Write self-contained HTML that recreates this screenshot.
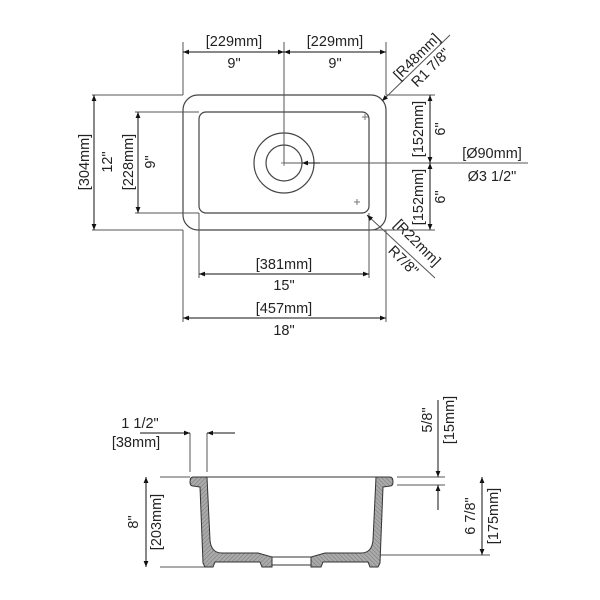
<!DOCTYPE html>
<html><head><meta charset="utf-8"><style>
html,body{margin:0;padding:0;background:#fff;}
svg{display:block;}
text{font-family:"Liberation Sans",sans-serif;font-size:14.5px;fill:#222;}
</style></head><body>
<svg width="600" height="600" viewBox="0 0 600 600" xmlns="http://www.w3.org/2000/svg">
<defs>
<marker id="a" viewBox="0 0 10 10" refX="10" refY="5" markerWidth="10" markerHeight="6" orient="auto-start-reverse" markerUnits="userSpaceOnUse"><path d="M0,1 L10,5 L0,9 Z" fill="#111"/></marker>
<pattern id="h" width="3" height="3" patternUnits="userSpaceOnUse" patternTransform="rotate(45)"><rect width="3" height="3" fill="#aaa"/><line x1="0" y1="0" x2="0" y2="3" stroke="#777" stroke-width="1"/></pattern>
</defs>
<g stroke="#555" stroke-width="1" fill="none">
<rect x="183" y="95" width="203" height="135" rx="15" stroke="#444" stroke-width="1.2"/>
<rect x="199" y="112" width="170" height="101" rx="7" stroke="#444" stroke-width="1.2"/>
<circle cx="284" cy="163" r="30" stroke="#444" stroke-width="1.2"/>
<circle cx="284" cy="163" r="18" stroke="#444" stroke-width="1.2"/>
<path d="M281,163h6M284,160v6M362,117h6M365,114v6M354,202h6M357,199v6" stroke="#777"/>
<path d="M183,42V95M386,42V95M284,42V163M92,95H183M92,230H183M135,112H199M135,213H199M386,95H435M369,230H435M199,213V278M369,213V278M183,230V322M386,230V322"/>
<path d="M284,163H528"/>
</g>
<g stroke="#111" stroke-width="1" fill="none">
<line x1="183" y1="52" x2="284" y2="52" marker-start="url(#a)" marker-end="url(#a)"/>
<line x1="284" y1="52" x2="386" y2="52" marker-start="url(#a)" marker-end="url(#a)"/>
<line x1="94" y1="95" x2="94" y2="230" marker-start="url(#a)" marker-end="url(#a)"/>
<line x1="138" y1="112" x2="138" y2="213" marker-start="url(#a)" marker-end="url(#a)"/>
<line x1="430" y1="95" x2="430" y2="163" marker-start="url(#a)" marker-end="url(#a)"/>
<line x1="430" y1="163" x2="430" y2="230" marker-start="url(#a)" marker-end="url(#a)"/>
<line x1="199" y1="274" x2="369" y2="274" marker-start="url(#a)" marker-end="url(#a)"/>
<line x1="183" y1="318" x2="386" y2="318" marker-start="url(#a)" marker-end="url(#a)"/>
<line x1="320" y1="163" x2="302" y2="163" marker-end="url(#a)"/>
<line x1="450" y1="35" x2="382" y2="101" marker-end="url(#a)" stroke="#555"/>
<line x1="435" y1="278" x2="367" y2="215" marker-end="url(#a)" stroke="#555"/>
</g>
<g text-anchor="middle">
<text x="234" y="46">[229mm]</text><text x="234" y="68">9"</text>
<text x="335" y="46">[229mm]</text><text x="335" y="68">9"</text>
<text x="284" y="269">[381mm]</text><text x="284" y="290">15"</text>
<text x="284" y="313">[457mm]</text><text x="284" y="335">18"</text>
<text x="492" y="158">[Ø90mm]</text><text x="492" y="181">Ø3 1/2"</text>
<text transform="translate(89,162) rotate(-90)">[304mm]</text>
<text transform="translate(112,162) rotate(-90)">12"</text>
<text transform="translate(133,162) rotate(-90)">[228mm]</text>
<text transform="translate(155,162) rotate(-90)">9"</text>
<text transform="translate(423,129) rotate(-90)">[152mm]</text>
<text transform="translate(445,129) rotate(-90)">6"</text>
<text transform="translate(423,197) rotate(-90)">[152mm]</text>
<text transform="translate(445,197) rotate(-90)">6"</text>
<text transform="translate(420,60) rotate(-45)">[R48mm]</text>
<text transform="translate(434,71) rotate(-45)">R1 7/8"</text>
<text transform="translate(414,246) rotate(45)">[R22mm]</text>
<text transform="translate(400,264) rotate(45)">R7/8"</text>
</g>
<g stroke="#555" stroke-width="1" fill="none">
<path d="M190,433V472M207,433V472M160,477H190M397,477H445M397,485H445M380,555H490M160,567H205"/>
<line x1="207" y1="477" x2="377" y2="477" stroke="#333"/>
</g>
<g stroke="#111" stroke-width="1" fill="none">
<line x1="140" y1="433" x2="190" y2="433" marker-end="url(#a)"/>
<line x1="235" y1="433" x2="207" y2="433" marker-end="url(#a)"/>
<line x1="146" y1="477" x2="146" y2="567" marker-start="url(#a)" marker-end="url(#a)"/>
<line x1="438" y1="400" x2="438" y2="477" marker-end="url(#a)"/>
<line x1="438" y1="510" x2="438" y2="485" marker-end="url(#a)"/>
<line x1="482" y1="477" x2="482" y2="555" marker-start="url(#a)" marker-end="url(#a)"/>
</g>
<g fill="url(#h)" stroke="#333" stroke-width="1">
<path id="lh" d="M193,477 L207,477 L210,540 Q211,553 222,553 L258,553 L272,557 L272,567 L262,567 L260,562 L215,562 L213,567 L205,567 L203,563 L200,487 L193,486 Q190,486 190,482 Q190,477 193,477 Z"/>
<use href="#lh" transform="translate(583,0) scale(-1,1)"/>
</g>
<path d="M272,557H311M272,565H311" stroke="#333" fill="none"/>
<g text-anchor="middle">
<text x="140" y="428">1 1/2"</text><text x="136" y="447">[38mm]</text>
<text transform="translate(138,522) rotate(-90)">8"</text>
<text transform="translate(161,522) rotate(-90)">[203mm]</text>
<text transform="translate(432,420) rotate(-90)">5/8"</text>
<text transform="translate(454,420) rotate(-90)">[15mm]</text>
<text transform="translate(475,516) rotate(-90)">6 7/8"</text>
<text transform="translate(498,516) rotate(-90)">[175mm]</text>
</g>
</svg>
</body></html>
